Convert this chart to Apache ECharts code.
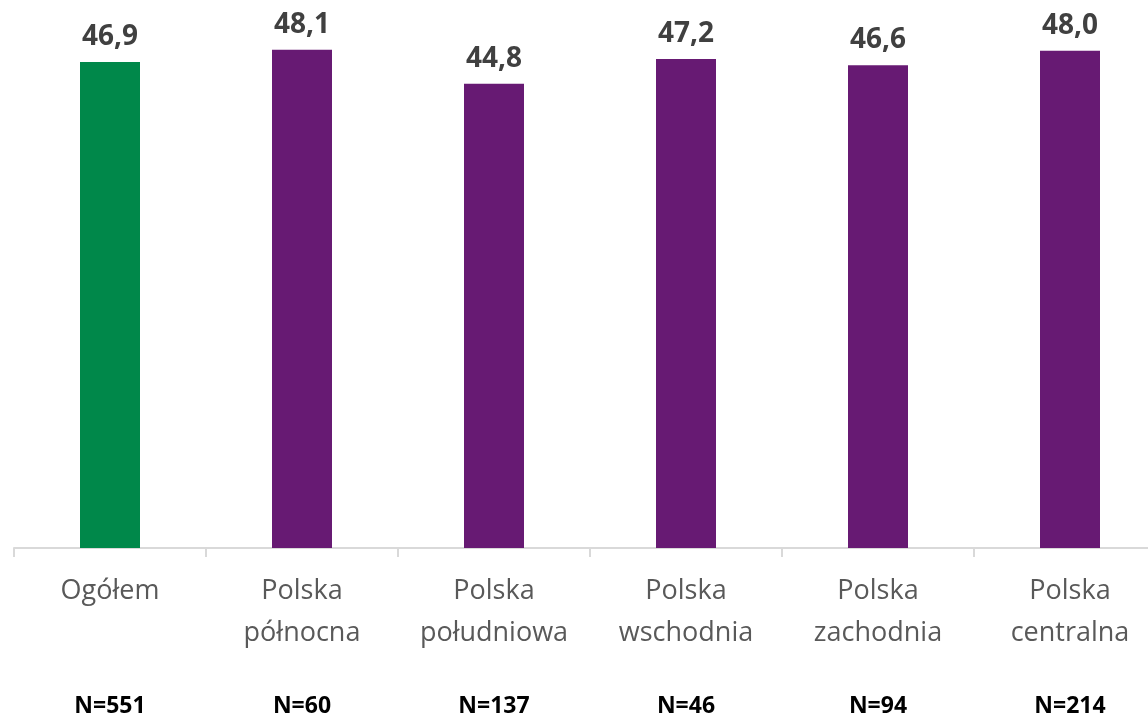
<!DOCTYPE html>
<html>
<head>
<meta charset="utf-8">
<script src="https://cdn.jsdelivr.net/npm/echarts@6/dist/echarts.min.js"></script>
<style>
    html, body { margin: 0; padding: 0; overflow: hidden; background: #fff; }
    #chart { width: 1166px; height: 718px; }
</style>
</head>
<body>
<div id="chart"></div>
<script>
    // regiony i średnie
    const categories = ['Ogółem', 'Polska\npółnocna', 'Polska\npołudniowa', 'Polska\nwschodnia', 'Polska\nzachodnia', 'Polska\ncentralna'];
    const values = [46.9, 48.1, 44.8, 47.2, 46.6, 48.0];
    const sampleSizes = ['N=551', 'N=60', 'N=137', 'N=46', 'N=94', 'N=214'];
    const barColors = ['#00884a', '#671a73', '#671a73', '#671a73', '#671a73', '#671a73'];

    const font = '"Open Sans", "DejaVu Sans", sans-serif';

    let myChart = echarts.init(document.getElementById('chart'));
    let option = {
        animation: false,
        grid: {
            left: 14,
            right: 0,
            top: 30,
            bottom: 170
        },
        xAxis: [
            {
                type: 'category',
                data: categories,
                axisLine: {lineStyle: {color: '#d9d9d9', width: 2}},
                axisTick: {show: true, length: 9, lineStyle: {color: '#d9d9d9', width: 2}},
                axisLabel: {
                    interval: 0,
                    margin: 22,
                    fontFamily: font,
                    fontSize: 27,
                    lineHeight: 42,
                    color: '#595959'
                }
            },
            {
                type: 'category',
                data: sampleSizes,
                position: 'bottom',
                axisLine: {show: false},
                axisTick: {show: false},
                axisLabel: {
                    interval: 0,
                    margin: 158,
                    verticalAlign: 'middle',
                    fontFamily: font,
                    fontSize: 23,
                    fontWeight: 'bold',
                    color: '#000'
                }
            }
        ],
        yAxis: {
            type: 'value',
            min: 0,
            max: 50,
            show: false,
            splitLine: {show: false}
        },
        series: [
            {
                type: 'bar',
                data: values.map((v, i) => ({value: v, itemStyle: {color: barColors[i]}})),
                barWidth: 60,
                label: {
                    show: true,
                    position: 'top',
                    distance: 11,
                    fontFamily: font,
                    fontSize: 28,
                    fontWeight: 'bold',
                    color: '#404040',
                    formatter: p => p.value.toFixed(1).replace('.', ',')
                }
            }
        ]
    };
    myChart.setOption(option);
</script>
</body>
</html>
